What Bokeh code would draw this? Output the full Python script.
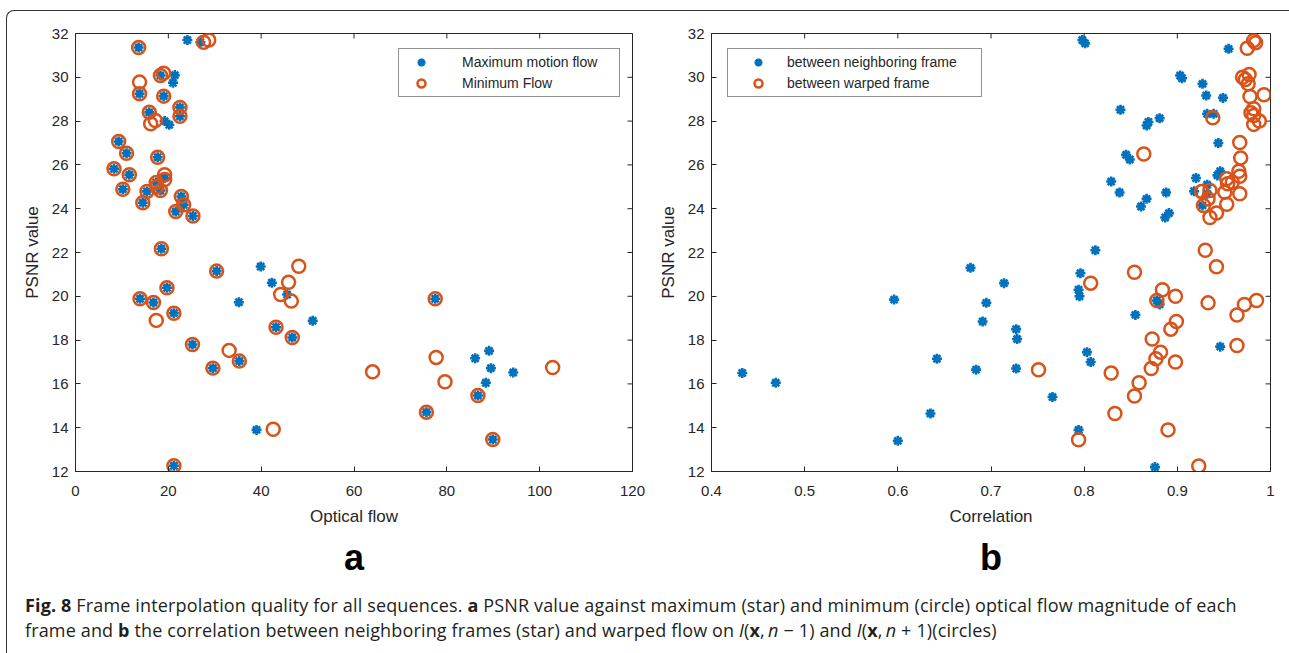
import math
from bokeh.plotting import figure
from bokeh.models import Title, Legend, LegendItem, Range1d, FixedTicker, Div
from bokeh.layouts import column, row
from bokeh.embed import file_html
from bokeh.resources import INLINE

# ---------------- Panel a: PSNR vs optical flow ----------------
a_max_flow = [13.6, 24.1, 26.9, 18.3, 21.4, 21.0, 13.8, 19.0, 22.5, 22.5, 15.9, 19.2, 20.2,
              9.3, 11.0, 17.7, 8.3, 11.6, 19.2, 17.4, 10.2, 15.4, 18.3, 14.5, 22.8, 23.3,
              21.6, 25.3, 18.5, 30.4, 39.9, 42.3, 19.7, 13.9, 16.8, 35.2, 21.2, 45.6, 51.1,
              43.2, 46.7, 25.2, 35.3, 29.6, 39.0, 21.2, 77.5, 75.6, 86.1, 89.1, 89.5, 94.3,
              88.4, 86.7, 89.9]
a_max_psnr = [31.36, 31.7, 31.6, 30.08, 30.1, 29.75, 29.25, 29.14, 28.62, 28.22, 28.4, 28.0, 27.83,
              27.07, 26.53, 26.35, 25.82, 25.55, 25.4, 25.2, 24.89, 24.79, 24.83, 24.27, 24.56, 24.18,
              23.87, 23.67, 22.17, 21.15, 21.36, 20.62, 20.39, 19.89, 19.72, 19.73, 19.23, 20.08, 18.88,
              18.59, 18.12, 17.8, 17.04, 16.72, 13.9, 12.26, 19.89, 14.71, 17.17, 17.51, 16.72, 16.52,
              16.05, 15.47, 13.46]
a_min_flow = [13.6, 27.6, 28.7, 13.8, 18.3, 19.0, 13.8, 19.0, 22.5, 22.5, 15.9, 16.2, 17.2,
              9.3, 11.0, 17.7, 8.3, 11.6, 19.2, 19.2, 17.4, 10.2, 15.4, 18.3, 17.5, 14.5,
              22.8, 23.3, 21.6, 25.3, 18.5, 30.4, 48.1, 45.9, 44.2, 46.5, 19.7, 13.9, 16.8,
              21.2, 17.4, 43.2, 46.7, 25.2, 33.1, 35.3, 29.6, 42.6, 21.2, 64.0, 77.5, 77.7,
              79.6, 75.6, 86.7, 89.9, 102.8]
a_min_psnr = [31.36, 31.6, 31.7, 29.78, 30.08, 30.19, 29.25, 29.14, 28.62, 28.22, 28.4, 27.88, 28.03,
              27.07, 26.53, 26.35, 25.82, 25.55, 25.55, 25.33, 25.2, 24.89, 24.79, 24.83, 25.0, 24.27,
              24.56, 24.18, 23.87, 23.67, 22.17, 21.15, 21.37, 20.64, 20.08, 19.78, 20.39, 19.89, 19.72,
              19.23, 18.9, 18.59, 18.12, 17.8, 17.53, 17.04, 16.72, 13.93, 12.26, 16.55, 19.89, 17.21,
              16.1, 14.71, 15.47, 13.46, 16.75]

# ---------------- Panel b: PSNR vs correlation ----------------
b_neigh_corr = [0.433, 0.469, 0.596, 0.600, 0.635, 0.642, 0.678, 0.684, 0.691, 0.695, 0.714, 0.727,
                0.728, 0.727, 0.766, 0.794, 0.796, 0.794, 0.795, 0.803, 0.807, 0.812, 0.798, 0.801,
                0.955, 0.903, 0.905, 0.927, 0.931, 0.949, 0.839, 0.932, 0.939, 0.881, 0.869, 0.867,
                0.944, 0.845, 0.849, 0.943, 0.946, 0.920, 0.932, 0.918, 0.932, 0.927, 0.829, 0.838,
                0.888, 0.867, 0.861, 0.891, 0.887, 0.855, 0.878, 0.881, 0.946, 0.876]
b_neigh_psnr = [16.5, 16.05, 19.85, 13.4, 14.65, 17.15, 21.3, 16.65, 18.85, 19.7, 20.6, 18.5,
                18.05, 16.7, 15.4, 13.9, 21.05, 20.3, 20.0, 17.45, 17.0, 22.1, 31.7, 31.55,
                31.3, 30.08, 29.96, 29.7, 29.17, 29.06, 28.52, 28.33, 28.33, 28.13, 27.96, 27.8,
                27.0, 26.46, 26.25, 25.52, 25.71, 25.4, 25.09, 24.8, 24.68, 24.15, 25.24, 24.74,
                24.74, 24.45, 24.1, 23.8, 23.6, 19.15, 19.81, 19.63, 17.7, 12.2]
b_warp_corr = [0.751, 0.794, 0.807, 0.982, 0.984, 0.975, 0.970, 0.977, 0.973, 0.976, 0.978, 0.993,
               0.982, 0.979, 0.982, 0.988, 0.982, 0.938, 0.967, 0.968, 0.864, 0.953, 0.966, 0.967,
               0.959, 0.954, 0.951, 0.967, 0.953, 0.926, 0.935, 0.933, 0.928, 0.935, 0.942, 0.930,
               0.854, 0.942, 0.884, 0.898, 0.878, 0.933, 0.964, 0.972, 0.985, 0.899, 0.893, 0.873,
               0.964, 0.882, 0.877, 0.872, 0.898, 0.829, 0.859, 0.854, 0.833, 0.890, 0.923]
b_warp_psnr = [16.65, 13.45, 20.6, 31.68, 31.58, 31.33, 30.0, 30.13, 29.9, 29.7, 29.12, 29.2,
               28.56, 28.38, 28.26, 28.0, 27.85, 28.15, 27.02, 26.32, 26.5, 25.37, 25.71, 25.48,
               25.21, 25.14, 24.75, 24.68, 24.2, 24.79, 24.83, 24.45, 24.15, 23.6, 23.8, 22.1,
               21.1, 21.35, 20.3, 20.0, 19.81, 19.7, 19.15, 19.63, 19.81, 18.85, 18.5, 18.05,
               17.75, 17.45, 17.15, 16.7, 17.0, 16.5, 16.05, 15.45, 14.65, 13.9, 12.25]

a_xticks = [0, 20, 40, 60, 80, 100, 120]
b_xticks = [0.4, 0.5, 0.6, 0.7, 0.8, 0.9, 1.0]
b_xtick_labels = {0.4: "0.4", 0.5: "0.5", 0.6: "0.6", 0.7: "0.7", 0.8: "0.8", 0.9: "0.9", 1.0: "1"}
yticks = [12, 14, 16, 18, 20, 22, 24, 26, 28, 30, 32]

BLUE = "#0072BD"
ORANGE = "#D95319"
AXC = "#262626"
TICKFONT = "Liberation Sans"


def make_panel(xr, xticks, xlabel, letter, xs1, ys1, xs2, ys2, lab1, lab2,
               width, min_left, min_right, leg_loc, leg_glyph_w, leg_label_w, leg_standoff,
               label_overrides=None):
    p = figure(width=width, height=574, x_range=Range1d(*xr), y_range=Range1d(12, 32),
               output_backend="svg", toolbar_location=None,
               min_border_left=min_left, min_border_right=min_right,
               min_border_top=22, min_border_bottom=114)
    p.background_fill_color = "white"
    p.border_fill_color = None
    p.grid.visible = False
    p.outline_line_color = AXC
    p.outline_line_width = 1

    for ax in (p.xaxis[0], p.yaxis[0]):
        ax.axis_line_color = AXC
        ax.major_tick_in = 5
        ax.major_tick_out = 0
        ax.minor_tick_line_color = None
        ax.major_tick_line_color = AXC
        ax.major_label_text_font = TICKFONT
        ax.major_label_text_font_size = "15px"
        ax.major_label_text_color = AXC
        ax.axis_label_text_font = TICKFONT
        ax.axis_label_text_font_size = "17px"
        ax.axis_label_text_font_style = "normal"
        ax.axis_label_text_color = AXC
    p.xaxis[0].ticker = FixedTicker(ticks=xticks)
    p.yaxis[0].ticker = FixedTicker(ticks=yticks)
    if label_overrides:
        p.xaxis[0].major_label_overrides = label_overrides
    p.xaxis[0].axis_label = xlabel
    p.yaxis[0].axis_label = "PSNR value"
    p.xaxis[0].major_label_standoff = 14
    p.xaxis[0].axis_label_standoff = 8
    p.yaxis[0].major_label_standoff = 7
    p.yaxis[0].axis_label_standoff = 7

    # inward ticks on the top and right edges of the box (drawn at the ranges' ends)
    p.scatter(xticks, [yticks[-1]] * len(xticks), marker="dash", size=10,
              angle=math.pi / 2, line_color=AXC, line_width=1)
    p.scatter([xr[1]] * len(yticks), yticks, marker="dash", size=10,
              line_color=AXC, line_width=1)

    r1 = p.scatter(xs1, ys1, marker="asterisk", size=10, line_color=BLUE, line_width=2.6)
    r2 = p.scatter(xs2, ys2, marker="circle", size=13, fill_color=None,
                   line_color=ORANGE, line_width=2.5)

    leg = Legend(items=[LegendItem(label=lab1, renderers=[r1]),
                        LegendItem(label=lab2, renderers=[r2])],
                 location=leg_loc, padding=3, spacing=1,
                 glyph_width=leg_glyph_w, glyph_height=20, label_height=20,
                 label_width=leg_label_w, label_standoff=leg_standoff,
                 label_text_font=TICKFONT, label_text_font_size="14px",
                 label_text_color=AXC, border_line_color=AXC, border_line_width=1,
                 background_fill_color="white", background_fill_alpha=1.0, margin=0)
    p.add_layout(leg, "center")

    t = Title(text=letter, align="center", text_font=TICKFONT, text_font_size="36px",
              text_font_style="bold", text_color="black", standoff=13)
    p.add_layout(t, "below")
    return p


pa = make_panel((0, 120), a_xticks, "Optical flow", "a",
                a_max_flow, a_max_psnr, a_min_flow, a_min_psnr,
                "Maximum motion flow", "Minimum Flow",
                width=646, min_left=68, min_right=21, leg_loc=(323, 374),
                leg_glyph_w=38, leg_label_w=154, leg_standoff=22)

pb = make_panel((0.4, 1.0), b_xticks, "Correlation", "b",
                b_neigh_corr, b_neigh_psnr, b_warp_corr, b_warp_psnr,
                "between neighboring frame", "between warped frame",
                width=629, min_left=58, min_right=12, leg_loc=(16, 374),
                leg_glyph_w=54, leg_label_w=191, leg_standoff=2,
                label_overrides=b_xtick_labels)

# ---------------- Caption ----------------
caption_html = (
    "<b>Fig. 8</b> Frame interpolation quality for all sequences. <b>a</b> PSNR value against "
    "maximum (star) and minimum (circle) optical flow magnitude of each<br>"
    "frame and <b>b</b> the correlation between neighboring frames (star) and warped flow on "
    "<i>I</i>(<b>x</b>,&#8201;<i>n</i> \u2212 1) and <i>I</i>(<b>x</b>,&#8201;<i>n</i> + 1)(circles)"
)
caption = Div(text=caption_html, width=1275, height=66,
              styles={"font-family": "'Open Sans'", "font-size": "18px", "line-height": "25px",
                      "letter-spacing": "0.15px", "color": "#231f20", "padding-left": "13px",
                      "padding-top": "3px", "white-space": "nowrap"})

layout = column(row(pa, pb), caption,
                styles={"margin-left": "6px", "margin-top": "10px",
                        "border-left": "1px solid #333", "border-top": "1px solid #333",
                        "border-top-left-radius": "8px"})

open("out.html", "w").write(file_html(layout, INLINE))
